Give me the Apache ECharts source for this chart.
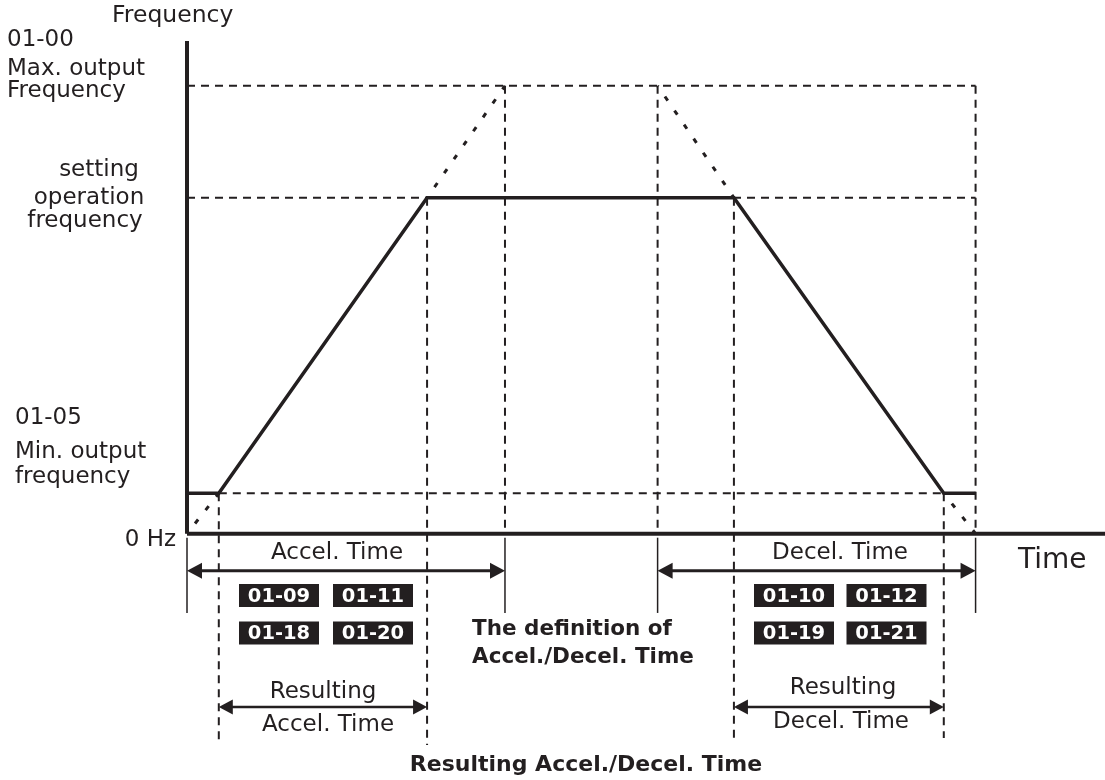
<!DOCTYPE html>
<html>
<head>
<meta charset="utf-8">
<script src="https://cdn.jsdelivr.net/npm/echarts@6/dist/echarts.min.js"></script>
<style>html,body{margin:0;padding:0;background:#fff}#c{width:1105px;height:780px}</style>
</head>
<body>
<div id="c"></div>
<script>
// ---------- DATA ----------
// frequency levels in % of max output frequency
const levelNames = ['0 Hz', 'Min. output frequency', 'setting operation frequency', 'Max. output Frequency'];
const levelValues = [0, 9, 75, 100];
// time profile (s): start, reach min, reach setting, start decel, reach min, stop
const profileTime = [0, 1.0, 7.55, 17.2, 23.8, 24.8];
const profileFreq = [9, 9, 75, 75, 9, 9];
// definition ramps (0 Hz <-> max)
const accelDefTime = [0, 10];
const accelDefFreq = [0, 100];
const decelDefTime = [14.8, 24.8];
const decelDefFreq = [100, 0];
// parameter codes
const accelCodes = ['01-09', '01-11', '01-18', '01-20'];
const decelCodes = ['01-10', '01-12', '01-19', '01-21'];

// ---------- LAYOUT / STYLE ----------
const C = '#231f20';
const FONT = '"DejaVu Sans", sans-serif';
const X_MAX = 28.87, Y_MIN = -55, Y_MAX = 110;
const ROW_ARROW1 = -8.3, ROW_ARROW2 = -38.7;
const THIN_TOP = -0.9, THIN_BOT = -17.7;
const DASH_BOT = [-46, -47.2, -46, -45.6];

const [F0, FMIN, FOP, FMAX] = levelValues;
const [t0, t1, t2, t3, t4, t5] = profileTime;

const series = [];
function seg(pts, lineStyle) {
  series.push({
    type: 'line', data: pts, symbol: 'none', silent: true, animation: false, clip: false,
    lineStyle: Object.assign({ color: C, cap: 'butt' }, lineStyle)
  });
}
const dashed = { width: 2, type: [8, 6] };
// dashed guides
seg([[t0, FMAX], [t5, FMAX]], dashed);
seg([[t0, FOP], [t5, FOP]], dashed);
seg([[t1, FMIN], [t4, FMIN]], dashed);
seg([[accelDefTime[1], FMAX], [accelDefTime[1], F0]], dashed);
seg([[decelDefTime[0], FMAX], [decelDefTime[0], F0]], dashed);
seg([[decelDefTime[1], FMAX], [decelDefTime[1], F0]], dashed);
seg([[t1, FMIN], [t1, DASH_BOT[0]]], dashed);
seg([[t2, FOP], [t2, DASH_BOT[1]]], dashed);
seg([[t3, FOP], [t3, DASH_BOT[2]]], dashed);
seg([[t4, FMIN], [t4, DASH_BOT[3]]], dashed);
// dotted definition ramps (only the parts not covered by the real profile)
const dotted = { width: 3, type: [5, 12], dashOffset: 4 };
seg([[accelDefTime[0], accelDefFreq[0]], [t1, FMIN]], dotted);
seg([[t2, FOP], [accelDefTime[1], accelDefFreq[1]]], dotted);
seg([[decelDefTime[0], decelDefFreq[0]], [t3, FOP]], dotted);
seg([[t4, FMIN], [decelDefTime[1], decelDefFreq[1]]], dotted);
// thin extension lines below axis
[accelDefTime[0], accelDefTime[1], decelDefTime[0], decelDefTime[1]].forEach(t =>
  seg([[t, THIN_TOP], [t, THIN_BOT]], { width: 1.5 }));
// axes
seg([[0, 0], [X_MAX, 0]], { width: 4 });
seg([[0, 0], [0, Y_MAX]], { width: 4 });
// frequency profile
series.push({
  type: 'line', data: profileTime.map((t, i) => [t, profileFreq[i]]), symbol: 'none',
  silent: true, animation: false, clip: false,
  lineStyle: { color: C, width: 3.5, join: 'miter' }
});
// arrows
const arrows = [
  [accelDefTime[0], accelDefTime[1], ROW_ARROW1, 3, 15, 8],
  [decelDefTime[0], decelDefTime[1], ROW_ARROW1, 3, 15, 8],
  [t1, t2, ROW_ARROW2, 2.5, 14, 7.5],
  [t3, t4, ROW_ARROW2, 2.5, 14, 7.5]
];
series.push({
  type: 'custom', coordinateSystem: 'cartesian2d', clip: false, silent: true, animation: false,
  encode: { x: [0, 1], y: 2 },
  data: arrows,
  renderItem(params, api) {
    const a = api.coord([api.value(0), api.value(2)]);
    const b = api.coord([api.value(1), api.value(2)]);
    const w = api.value(3), L = api.value(4), H = api.value(5);
    const y = a[1];
    return {
      type: 'group', children: [
        { type: 'line', shape: { x1: a[0] + L - 2, y1: y, x2: b[0] - L + 2, y2: y }, style: { stroke: C, lineWidth: w } },
        { type: 'polygon', shape: { points: [[a[0], y], [a[0] + L, y - H], [a[0] + L, y + H]] }, style: { fill: C } },
        { type: 'polygon', shape: { points: [[b[0], y], [b[0] - L, y - H], [b[0] - L, y + H]] }, style: { fill: C } }
      ]
    };
  }
});

// ---------- TEXT ----------
const graphic = [];
function txt(text, x, y, size, align, bold, color) {
  graphic.push({
    type: 'text', x: x, y: y, z: 100, silent: true,
    style: { text: text, fill: color || C, font: (bold ? 'bold ' : '') + size + 'px ' + FONT, align: align || 'left', verticalAlign: 'middle' }
  });
}
txt('Frequency', 112, 16, 23.5);
txt('01-00', 7, 40, 23);
txt('Max. output', 7, 69, 23);
txt('Frequency', 7, 91, 23);
txt('setting', 99, 170, 23, 'center');
txt('operation', 89, 198, 23, 'center');
txt('frequency', 85, 221, 23, 'center');
txt('01-05', 15, 418, 23);
txt('Min. output', 15, 452, 23);
txt('frequency', 15, 477, 23);
txt('0 Hz', 176, 540, 23, 'right');
txt('Time', 1018, 561, 28);
txt('Accel. Time', 337, 553, 23, 'center');
txt('Decel. Time', 840, 553, 23, 'center');
txt('Resulting', 323, 692, 23, 'center');
txt('Accel. Time', 328, 725, 23, 'center');
txt('Resulting', 843, 688, 23, 'center');
txt('Decel. Time', 841, 722, 23, 'center');
txt('The definition of', 472, 629, 21.5, 'left', true);
txt('Accel./Decel. Time', 472, 657, 21.5, 'left', true);
txt('Resulting Accel./Decel. Time', 586, 765, 22, 'center', true);

function box(code, cx, cy) {
  graphic.push({ type: 'rect', z: 99, silent: true, shape: { x: cx - 40, y: cy - 11.5, width: 80, height: 23 }, style: { fill: C } });
  txt(code, cx, cy + 1, 19.5, 'center', true, '#fff');
}
const accCols = [279, 373], decCols = [794, 886.5], rows = [595.5, 633];
accelCodes.forEach((c, i) => box(c, accCols[i % 2], rows[Math.floor(i / 2)]));
decelCodes.forEach((c, i) => box(c, decCols[i % 2], rows[Math.floor(i / 2)]));

const chart = echarts.init(document.getElementById('c'));
chart.setOption({
  animation: false,
  backgroundColor: '#fff',
  grid: { left: 187, right: 0, top: 41, bottom: 0, containLabel: false, outerBoundsMode: 'none' },
  xAxis: { type: 'value', min: 0, max: X_MAX, show: false },
  yAxis: { type: 'value', min: Y_MIN, max: Y_MAX, show: false },
  series: series,
  graphic: graphic
});
</script>
</body>
</html>
